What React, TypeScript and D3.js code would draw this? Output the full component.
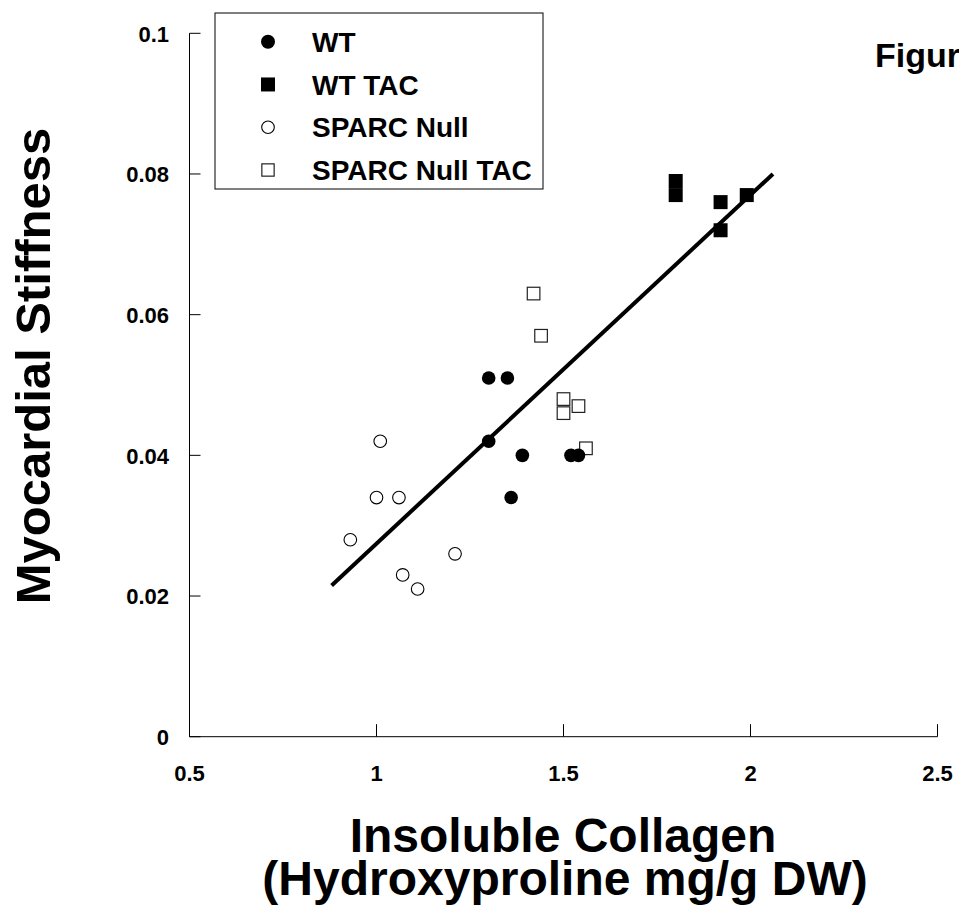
import * as d3 from 'd3'

// groups
const wt = [
  { x: 1.30, y: 0.051 }, { x: 1.35, y: 0.051 }, { x: 1.30, y: 0.042 },
  { x: 1.39, y: 0.040 }, { x: 1.52, y: 0.040 }, { x: 1.54, y: 0.040 },
  { x: 1.36, y: 0.034 },
]
const wtTac = [
  { x: 1.80, y: 0.079 }, { x: 1.80, y: 0.077 }, { x: 1.92, y: 0.076 },
  { x: 1.92, y: 0.072 }, { x: 1.99, y: 0.077 },
]
const sparcNull = [
  { x: 1.01, y: 0.042 }, { x: 1.00, y: 0.034 }, { x: 1.06, y: 0.034 },
  { x: 0.93, y: 0.028 }, { x: 1.07, y: 0.023 }, { x: 1.11, y: 0.021 },
  { x: 1.21, y: 0.026 },
]
const sparcNullTac = [
  { x: 1.42, y: 0.063 }, { x: 1.44, y: 0.057 }, { x: 1.50, y: 0.048 },
  { x: 1.50, y: 0.046 }, { x: 1.54, y: 0.047 }, { x: 1.56, y: 0.041 },
]
// regression line end points
const fitLine = [{ x: 0.88, y: 0.0215 }, { x: 2.06, y: 0.0800 }]

const xTicks = [0.5, 1, 1.5, 2, 2.5]
const yTicks = [0, 0.02, 0.04, 0.06, 0.08, 0.1]
const legendLabels = ['WT', 'WT TAC', 'SPARC Null', 'SPARC Null TAC']

const W = 959
const H = 924
const FONT = 'Arial, "Liberation Sans", Helvetica, sans-serif'

export default function App() {
  const x = d3.scaleLinear().domain([0.5, 2.5]).range([189.5, 937.5])
  const y = d3.scaleLinear().domain([0, 0.1]).range([736.7, 33.3])
  const line = d3.line<{ x: number; y: number }>().x(d => x(d.x)).y(d => y(d.y))

  const fmtY = (v: number) => (v === 0 ? '0' : String(+v.toFixed(2)))

  const dot = (cx: number, cy: number, filled: boolean, r: number, key: string | number) => (
    <circle key={key} cx={cx} cy={cy} r={r} fill={filled ? '#000' : '#fff'} stroke="#000" strokeWidth={filled ? 0 : 1.1} />
  )
  const sq = (cx: number, cy: number, filled: boolean, s: number, key: string | number) => (
    <rect key={key} x={cx - s / 2} y={cy - s / 2} width={s} height={s} fill={filled ? '#000' : '#fff'} stroke="#222" strokeWidth={filled ? 0 : 1.2} />
  )

  const legendY = d3.scalePoint<string>().domain(legendLabels).range([41.7, 170])

  return (
    <svg width={W} height={H} style={{ position: 'absolute', left: 0, top: 0, background: '#fff' }} fontFamily={FONT}>
      <rect width={W} height={H} fill="#fff" />

      {/* axes */}
      <line x1={x(0.5)} x2={x(0.5)} y1={y(0)} y2={y(0.1)} stroke="#000" strokeWidth={1} />
      <line x1={x(0.5)} x2={x(2.5)} y1={y(0)} y2={y(0)} stroke="#000" strokeWidth={1} />
      {yTicks.map(t => (
        <g key={'y' + t}>
          <line x1={x(0.5)} x2={x(0.5) + 11} y1={y(t)} y2={y(t)} stroke="#000" strokeWidth={1} />
          <text x={169} y={y(t)} dy="0.38em" textAnchor="end" fontSize={22} fontWeight="bold">{fmtY(t)}</text>
        </g>
      ))}
      {xTicks.map(t => (
        <g key={'x' + t}>
          <line x1={x(t)} x2={x(t)} y1={y(0)} y2={y(0) - 12.5} stroke="#000" strokeWidth={1} />
          <text x={x(t)} y={781} textAnchor="middle" fontSize={22} fontWeight="bold">{t}</text>
        </g>
      ))}

      {/* regression */}
      <path d={line(fitLine) || ''} fill="none" stroke="#000" strokeWidth={4} />

      {/* points */}
      {sparcNull.map((d, i) => dot(x(d.x), y(d.y), false, 6.3, 'sn' + i))}
      {sparcNullTac.map((d, i) => sq(x(d.x), y(d.y), false, 12.6, 'snt' + i))}
      {wt.map((d, i) => dot(x(d.x), y(d.y), true, 6.8, 'wt' + i))}
      {wtTac.map((d, i) => sq(x(d.x), y(d.y), true, 14, 'wtt' + i))}

      {/* legend */}
      <rect x={215} y={13} width={328} height={176} fill="#fff" stroke="#000" strokeWidth={1} />
      {legendLabels.map((l, i) => {
        const ly = legendY(l) as number
        const marker = i === 0 ? dot(268, ly, true, 7, 'm')
          : i === 1 ? sq(268, ly, true, 14, 'm')
          : i === 2 ? dot(268, ly, false, 6.3, 'm')
          : sq(268, ly, false, 12.3, 'm')
        return (
          <g key={l}>
            {marker}
            <text x={312} y={ly} dy="0.36em" fontSize={28} fontWeight="bold">{l}</text>
          </g>
        )
      })}

      <text x={875} y={66.7} fontSize={34} fontWeight="bold">Figure 5</text>

      {/* axis titles */}
      <text transform="translate(50,366) rotate(-90)" textAnchor="middle" fontSize={49} fontWeight="bold">Myocardial Stiffness</text>
      <text x={563} y={852} textAnchor="middle" fontSize={48} fontWeight="bold">Insoluble Collagen</text>
      <text x={565} y={895} textAnchor="middle" fontSize={48} fontWeight="bold">(Hydroxyproline mg/g DW)</text>
    </svg>
  )
}
